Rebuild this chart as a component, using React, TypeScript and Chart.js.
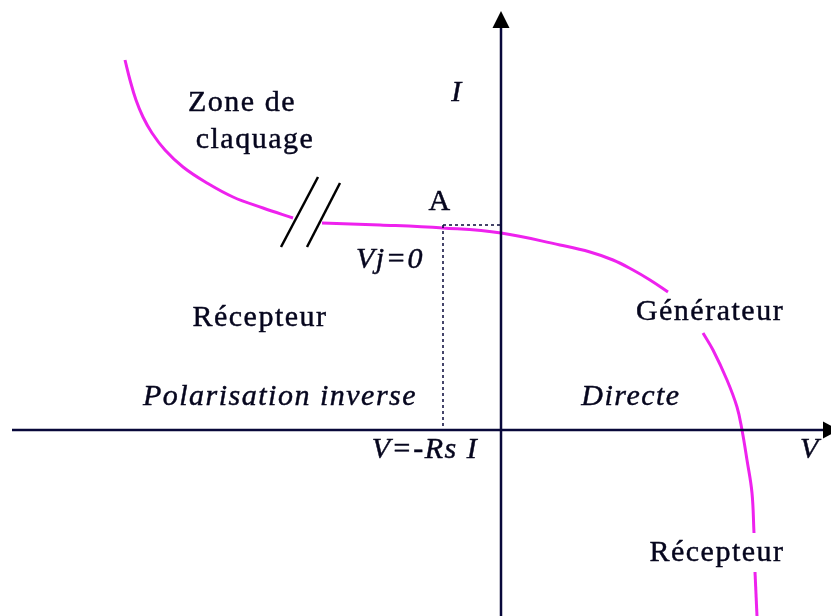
import React, { useEffect, useRef } from "react";
import { Chart, registerables } from "chart.js";

Chart.register(...registerables);

// Axis ranges (V horizontal, I vertical), origin at the crossing of the axes
const V_MIN = -5.01;
const V_MAX = 3.3;
const I_MIN = -1.86;
const I_MAX = 4.3;

// I-V characteristic of the cell, split where labels interrupt the curve
const breakdownV = [-3.76, -3.71, -3.65, -3.58, -3.49, -3.36, -3.18, -2.94, -2.68, -2.38, -2.08];
const breakdownI = [3.7, 3.5, 3.3, 3.13, 2.97, 2.8, 2.63, 2.47, 2.33, 2.22, 2.12];

const plateauV = [-1.79, -1.21, -0.58, 0, 0.59, 0.89, 1.12, 1.32, 1.49, 1.67];
const plateauI = [2.07, 2.05, 2.02, 1.97, 1.85, 1.78, 1.7, 1.6, 1.5, 1.38];

const kneeV = [2.02, 2.12, 2.26, 2.36, 2.41, 2.46, 2.51, 2.53];
const kneeI = [0.97, 0.8, 0.5, 0.23, 0, -0.3, -0.63, -1.03];

const tailV = [2.54, 2.56];
const tailI = [-1.42, -1.86];

// Point A (Vj = 0) and its projections
const pointA = { v: -0.58, i: 2.05 };

// Break symbol (two slanted strokes)
const break1V = [-1.83, -2.2];
const break1I = [2.53, 1.83];
const break2V = [-1.61, -1.94];
const break2I = [2.47, 1.83];

// Axes extents
const xAxisStart = -4.89;
const yAxisTop = 4.19;

// Text annotations: [text, V, I, italic]
const labels: [string, number, number, boolean][] = [
  ["Zone de", -2.59, 3.27, false],
  ["claquage", -2.46, 2.9, false],
  ["I", -0.44, 3.37, true],
  ["A", -0.61, 2.28, false],
  ["Vj=0", -1.11, 1.7, true],
  ["Récepteur", -2.41, 1.12, false],
  ["Générateur", 2.09, 1.18, false],
  ["Polarisation inverse", -2.21, 0.33, true],
  ["Directe", 1.3, 0.33, true],
  ["V=-Rs I", -0.76, -0.2, true],
  ["V", 3.09, -0.2, true],
  ["Récepteur", 2.16, -1.23, false],
];

const CURVE = "#ee22ee";
const AXIS = "#08083a";
const INK = "#06061e";

const pts = (xs: number[], ys: number[]) => xs.map((x, k) => ({ x, y: ys[k] }));

export default function App() {
  const ref = useRef<HTMLCanvasElement | null>(null);

  useEffect(() => {
    if (!ref.current) return;

    const curve = (xs: number[], ys: number[]) => ({
      data: pts(xs, ys),
      showLine: true,
      borderColor: CURVE,
      borderWidth: 3,
      pointRadius: 0,
      tension: 0.4,
    });
    const stroke = (xs: number[], ys: number[], color: string, width: number, dash: number[] = []) => ({
      data: pts(xs, ys),
      showLine: true,
      borderColor: color,
      borderWidth: width,
      borderDash: dash,
      pointRadius: 0,
      tension: 0,
    });

    const annotations = {
      id: "annotations",
      afterDatasetsDraw(chart: any) {
        const { ctx, scales } = chart;
        const xs = scales.x;
        const ys = scales.y;
        const px = (v: number) => xs.getPixelForValue(v);
        const py = (i: number) => ys.getPixelForValue(i);

        ctx.save();
        // arrow heads
        ctx.fillStyle = "#000000";
        const ox = px(0);
        const topY = py(yAxisTop);
        ctx.beginPath();
        ctx.moveTo(ox, topY);
        ctx.lineTo(ox - 8.5, topY + 17);
        ctx.lineTo(ox + 8.5, topY + 17);
        ctx.closePath();
        ctx.fill();

        const oy = py(0);
        const rightX = px(V_MAX);
        ctx.beginPath();
        ctx.moveTo(rightX + 8, oy);
        ctx.lineTo(rightX - 8, oy - 8.5);
        ctx.lineTo(rightX - 8, oy + 8.5);
        ctx.closePath();
        ctx.fill();

        // text
        ctx.fillStyle = INK;
        ctx.strokeStyle = INK;
        ctx.lineWidth = 0.45;
        ctx.textAlign = "center";
        ctx.textBaseline = "middle";
        (ctx as any).letterSpacing = "1.5px";
        for (const [t, v, i, it] of labels) {
          ctx.font = `${it ? "italic " : ""}30px "Liberation Serif", "Times New Roman", serif`;
          ctx.fillText(t, px(v), py(i));
          ctx.strokeText(t, px(v), py(i));
        }
        ctx.restore();
      },
    };

    const chart = new Chart(ref.current, {
      type: "scatter",
      data: {
        datasets: [
          stroke([xAxisStart, V_MAX - 0.08], [0, 0], AXIS, 2.5),
          stroke([0, 0], [I_MIN, yAxisTop - 0.1], AXIS, 2.5),
          stroke([pointA.v, 0], [pointA.i, pointA.i], AXIS, 1.5, [3, 3]),
          stroke([pointA.v, pointA.v], [pointA.i, 0], AXIS, 1.5, [3, 3]),
          curve(breakdownV, breakdownI),
          curve(plateauV, plateauI),
          curve(kneeV, kneeI),
          curve(tailV, tailI),
          stroke(break1V, break1I, "#000000", 2.5),
          stroke(break2V, break2I, "#000000", 2.5),
        ] as any,
      },
      options: {
        animation: false,
        responsive: false,
        layout: { padding: 0 },
        plugins: { legend: { display: false }, tooltip: { enabled: false } },
        scales: {
          x: { type: "linear", min: V_MIN, max: V_MAX, display: false },
          y: { type: "linear", min: I_MIN, max: I_MAX, display: false },
        },
      },
      plugins: [annotations],
    });

    return () => chart.destroy();
  }, []);

  return (
    <div style={{ position: "fixed", left: 0, top: 0, width: 831, height: 616, background: "#ffffff" }}>
      <canvas ref={ref} width={831} height={616} style={{ display: "block", width: 831, height: 616 }} />
    </div>
  );
}
